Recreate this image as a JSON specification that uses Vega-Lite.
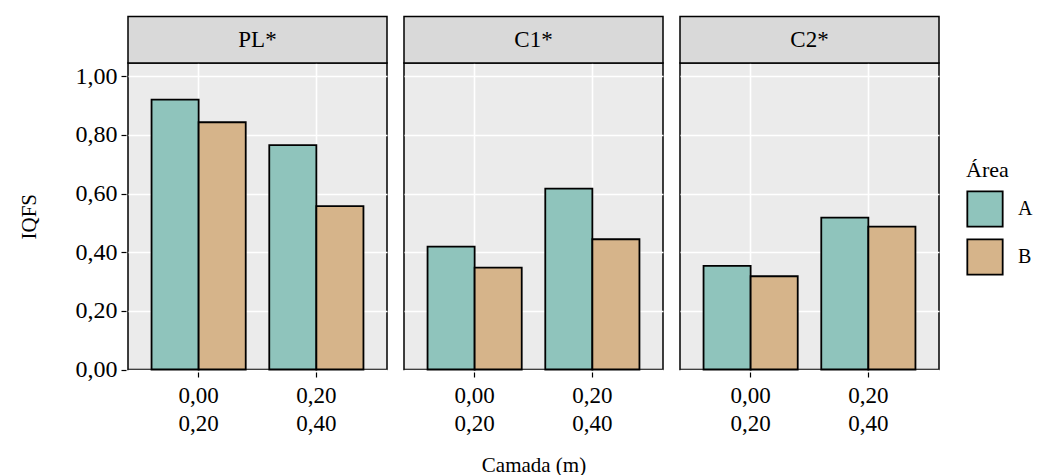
{
  "$schema": "https://vega.github.io/schema/vega-lite/v6.json",
  "padding": {"left": 18, "top": 15, "right": 5, "bottom": 0},
  "background": "white",
  "data": {
    "values": [
      {"painel": "PL*", "camada": "0,00|0,20", "area": "A", "iqfs": 0.92},
      {"painel": "PL*", "camada": "0,00|0,20", "area": "B", "iqfs": 0.843},
      {"painel": "PL*", "camada": "0,20|0,40", "area": "A", "iqfs": 0.765},
      {"painel": "PL*", "camada": "0,20|0,40", "area": "B", "iqfs": 0.557},
      {"painel": "C1*", "camada": "0,00|0,20", "area": "A", "iqfs": 0.419},
      {"painel": "C1*", "camada": "0,00|0,20", "area": "B", "iqfs": 0.347},
      {"painel": "C1*", "camada": "0,20|0,40", "area": "A", "iqfs": 0.617},
      {"painel": "C1*", "camada": "0,20|0,40", "area": "B", "iqfs": 0.444},
      {"painel": "C2*", "camada": "0,00|0,20", "area": "A", "iqfs": 0.353},
      {"painel": "C2*", "camada": "0,00|0,20", "area": "B", "iqfs": 0.318},
      {"painel": "C2*", "camada": "0,20|0,40", "area": "A", "iqfs": 0.518},
      {"painel": "C2*", "camada": "0,20|0,40", "area": "B", "iqfs": 0.487}
    ]
  },
  "facet": {
    "column": {
      "field": "painel",
      "type": "nominal",
      "sort": ["PL*", "C1*", "C2*"],
      "title": "Camada (m)",
      "header": {
        "labels": false,
        "titleOrient": "bottom",
        "titleFont": "Liberation Serif",
        "titleFontSize": 21,
        "titleFontWeight": "normal",
        "titleColor": "black",
        "titlePadding": 10
      }
    }
  },
  "spacing": 13,
  "spec": {
    "width": 259,
    "height": 306.5,
    "layer": [
      {
        "transform": [{"aggregate": [{"op": "count", "as": "n"}], "groupby": ["painel"]}],
        "mark": {"type": "rect", "fill": "#D9D9D9", "stroke": "black", "strokeWidth": 1.5, "clip": false},
        "encoding": {
          "x": {"value": 0},
          "x2": {"value": "width"},
          "y": {"datum": 1.045, "type": "quantitative"},
          "y2": {"datum": 1.2035}
        }
      },
      {
        "transform": [{"aggregate": [{"op": "count", "as": "n"}], "groupby": ["painel"]}],
        "mark": {"type": "text", "font": "Liberation Serif", "fontSize": 23, "color": "black", "align": "center", "baseline": "middle", "clip": false},
        "encoding": {
          "x": {"value": {"expr": "child_width / 2"}},
          "y": {"datum": 1.124, "type": "quantitative"},
          "text": {"field": "painel"}
        }
      },
      {
        "mark": {"type": "bar", "stroke": "black", "strokeWidth": 1.8, "opacity": 1},
        "encoding": {
          "x": {
            "field": "camada",
            "type": "nominal",
            "sort": ["0,00|0,20", "0,20|0,40"],
            "scale": {"paddingInner": 0.2, "paddingOuter": 0.2},
            "axis": {
              "title": null,
              "labelAngle": 0,
              "labelExpr": "split(datum.label, '|')",
              "labelFont": "Liberation Serif",
              "labelFontSize": 23,
              "labelColor": "black",
              "labelLineHeight": 28,
              "labelPadding": 7,
              "bandPosition": 0.5,
              "grid": true,
              "gridColor": "white",
              "gridWidth": 1.6,
              "ticks": true,
              "tickColor": "black",
              "tickSize": 5,
              "tickWidth": 1.2,
              "domain": false
            }
          },
          "xOffset": {"field": "area", "type": "nominal"},
          "y": {
            "field": "iqfs",
            "type": "quantitative",
            "scale": {"domain": [0, 1.045], "nice": false, "zero": true},
            "axis": {
              "title": "IQFS",
              "titleFont": "Liberation Serif",
              "titleFontSize": 21,
              "titleFontWeight": "normal",
              "titleColor": "black",
              "titlePadding": 36,
              "values": [0, 0.1, 0.2, 0.3, 0.4, 0.5, 0.6, 0.7, 0.8, 0.9, 1.0],
              "labelExpr": "round(datum.value * 10) % 2 == 0 ? replace(format(datum.value, '.2f'), '.', ',') : ''",
              "labelFont": "Liberation Serif",
              "labelFontSize": 24,
              "labelColor": "black",
              "labelPadding": 4,
              "grid": true,
              "gridColor": "white",
              "gridWidth": {"condition": {"test": "round(datum.value * 10) % 2 == 1", "value": 0.8}, "value": 1.6},
              "tickColor": "black",
              "tickSize": 5,
              "tickWidth": 1.2,
              "tickOpacity": {"condition": {"test": "round(datum.value * 10) % 2 == 1", "value": 0}, "value": 1},
              "domain": false
            }
          },
          "color": {
            "field": "area",
            "type": "nominal",
            "scale": {"domain": ["A", "B"], "range": ["#8fc4bc", "#d6b48a"]},
            "legend": {
              "title": "Área",
              "orient": "none",
              "legendX": 838,
              "legendY": 97,
              "titleFont": "Liberation Serif",
              "titleFontSize": 22,
              "titleFontWeight": "normal",
              "titleColor": "black",
              "titlePadding": 8,
              "labelFont": "Liberation Serif",
              "labelFontSize": 20,
              "labelColor": "black",
              "labelOffset": 14,
              "symbolType": "square",
              "symbolSize": 1250,
              "symbolStrokeColor": "black",
              "symbolStrokeWidth": 1.8,
              "symbolOpacity": 1,
              "rowPadding": 4
            }
          }
        }
      }
    ]
  },
  "config": {
    "view": {"stroke": "black", "strokeWidth": 1.5, "fill": "#EBEBEB"},
    "font": "Liberation Serif"
  }
}
